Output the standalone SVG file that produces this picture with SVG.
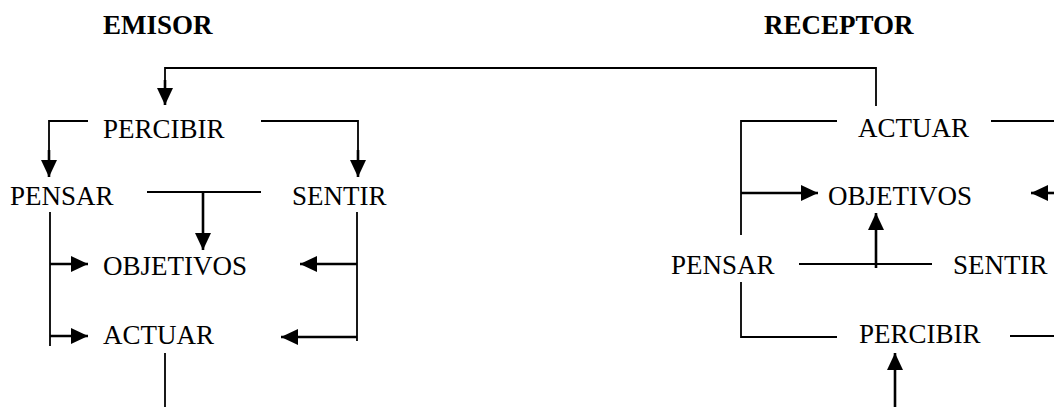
<svg xmlns="http://www.w3.org/2000/svg" width="1054" height="407" viewBox="0 0 1054 407">
<style>
text{font-family:"Liberation Serif","DejaVu Serif",serif;font-size:27px;fill:#000}
.h{font-weight:bold}
.ln{fill:none;stroke:#000;stroke-width:1.8}
.ar{fill:none;stroke:#000;stroke-width:2.6;marker-end:url(#ah)}
</style>
<defs>
<marker id="ah" markerUnits="userSpaceOnUse" markerWidth="17" markerHeight="16" refX="17" refY="8" orient="auto">
<path d="M0,0 L17,8 L0,16 z" fill="#000"/>
</marker>
</defs>
<g id="titles">
<text class="h" x="103" y="34">EMISOR</text>
<text class="h" x="764" y="34">RECEPTOR</text>
</g>
<g id="e-percibir"><text x="103" y="138">PERCIBIR</text></g>
<g id="e-pensar"><text x="10" y="205">PENSAR</text></g>
<g id="e-sentir"><text x="292" y="205">SENTIR</text></g>
<g id="e-objetivos"><text x="103" y="275">OBJETIVOS</text></g>
<g id="e-actuar"><text x="103" y="344">ACTUAR</text></g>
<g id="r-actuar"><text x="858" y="137">ACTUAR</text></g>
<g id="r-objetivos"><text x="828" y="205">OBJETIVOS</text></g>
<g id="r-pensar"><text x="671" y="274">PENSAR</text></g>
<g id="r-sentir"><text x="953" y="274">SENTIR</text></g>
<g id="r-percibir"><text x="859" y="343">PERCIBIR</text></g>
<g id="connectors">
<path class="ln" d="M876,106 V68 H165 V90"/>
<path class="ar" d="M165,80 V105"/>
<path class="ln" d="M88,121 H49 V160"/>
<path class="ar" d="M49,150 V177"/>
<path class="ln" d="M261,121 H358 V160"/>
<path class="ar" d="M358,150 V177"/>
<path class="ln" d="M147,192 H261"/>
<path class="ar" d="M203,192 V250"/>
<path class="ln" d="M50,212 V346"/>
<path class="ar" d="M50,264 H88"/>
<path class="ar" d="M50,336 H88"/>
<path class="ln" d="M357,212 V341"/>
<path class="ar" d="M357,264 H300"/>
<path class="ar" d="M357,337 H281"/>
<path class="ln" d="M165,353 V407"/>
<path class="ln" d="M837,121 H741 V235"/>
<path class="ar" d="M741,193 H818"/>
<path class="ln" d="M991,121 H1054"/>
<path class="ar" d="M1056,193 H1031"/>
<path class="ln" d="M741,282 V337 H837"/>
<path class="ln" d="M799,264 H932"/>
<path class="ar" d="M876,268 V213"/>
<path class="ln" d="M1010,336 H1054"/>
<path class="ar" d="M895,407 V353"/>
</g>
</svg>
